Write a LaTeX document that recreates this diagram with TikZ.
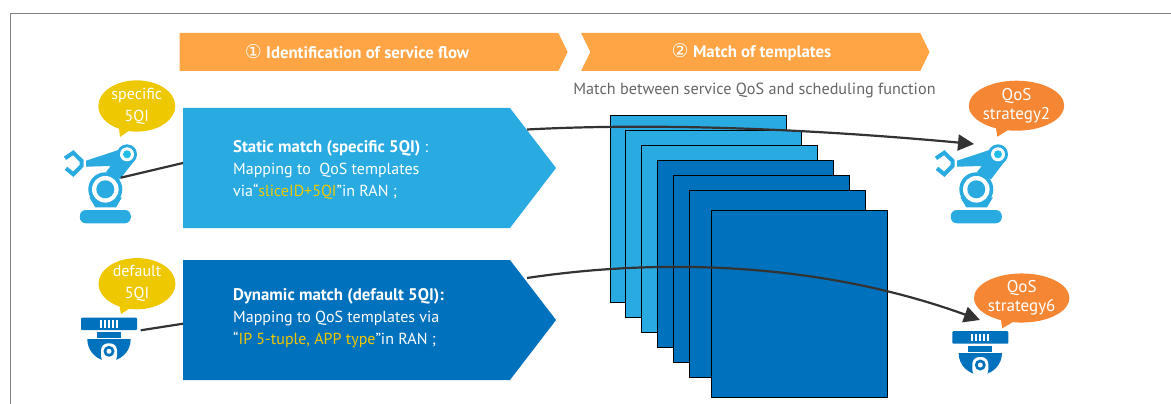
\documentclass[tikz,border=0pt]{standalone}
\usepackage{fontspec}
\setmainfont{PT Sans}
\newfontfamily\symfont{DejaVu Sans}
\usetikzlibrary{arrows.meta}
\usetikzlibrary{shapes.symbols}
\usetikzlibrary{shapes.callouts}
\definecolor{lightblue}{RGB}{41,171,226}
\definecolor{darkblue}{RGB}{0,113,188}
\definecolor{headorange}{RGB}{255,165,69}
\definecolor{bubbleorange}{RGB}{245,134,52}
\definecolor{bubbleyellow}{RGB}{238,200,0}
\definecolor{linegray}{RGB}{51,51,51}
\newcommand{\stepmark}[1]{{\symfont\mdseries\fontsize{19}{18}\selectfont #1}}
\tikzset{
	head/.style={signal, signal to=east, fill=headorange, inner sep=0pt, outer sep=0pt, minimum height=38pt, signal pointer angle=128},
	matchbox/.style={signal, signal to=east, inner sep=0pt, outer sep=0pt, minimum width=373pt, minimum height=120pt, signal pointer angle=105},
	headtext/.style={text=white, inner sep=0pt, font=\fontsize{16.8}{18}\selectfont\bfseries},
	boxtext/.style={text=white, anchor=west, align=left, inner sep=0pt, font=\fontsize{16}{21.8}\selectfont},
	bubble/.style={ellipse callout, text=white, align=center, inner sep=0pt, outer sep=0pt, font=\fontsize{16}{22}\selectfont},
	template/.style={draw=black, line width=1pt},
	link/.style={draw=linegray, line width=2.2pt},
	robot/.pic={
		\fill[lightblue, rounded corners=6pt] (-25.5,20.7) rectangle (25.5,34);
		\fill[lightblue] (-16,8) -- (-10,18) -- (10.7,18) -- (16.7,8) -- cycle;
		\fill[lightblue] (-19.3,-28.6) -- (14.7,-39.8) -- (30,-30) -- (14.7,-10) -- (0.7,-17.3) -- (5.4,-23.3) -- (-19.3,-22.6) -- cycle;
		\draw[lightblue, line width=4pt] (-40.3,-31) -- (-32,-36.6) -- (-23.6,-28.3) -- (-23.6,-23.6) -- (-32,-15) -- (-39.3,-21);
		\fill[lightblue] (0,0) circle (17);
		\fill[white] (0,0) circle (13.3);
		\fill[lightblue] (0,0) circle (9);
		\fill[lightblue] (21.7,-35) circle (10);
		\fill[white] (21.7,-35) circle (7);
		\fill[lightblue!80!cyan] (21.7,-35) circle (4);
		\coordinate (-port) at (15.4,-11.6);
	},
	camera/.pic={
		\fill[darkblue, rounded corners=1pt] (-28,-21.5) rectangle (28,-9);
		\foreach \tick in {-8,-4,0,4,8} {
			\fill[white] (\tick-1,-19) rectangle (\tick+1,-11.5);
		}
		\fill[darkblue] (-12,-7) rectangle (12,-1);
		\begin{scope}
			\clip (-23,0.3) rectangle (23,20.3);
			\fill[darkblue] (0,0.3) circle (21.7);
			\fill[white, rounded corners=7pt] (-8,24) -- (-8,4.3) -- (8,4.3) -- (8,24) -- cycle;
			\fill[darkblue] (0,12.3) circle (5.5);
			\fill[white] (0,12.3) circle (2.5);
		\end{scope}
		\coordinate (-port) at (31.7,-8.7);
	},
}

\begin{document}
\begin{tikzpicture}[x=1pt, y=-1pt]
	\useasboundingbox (0,0) rectangle (1171,404);
	\draw[gray, line width=1pt] (10.5,404) -- (10.5,13.5) -- (1171,13.5);

	% header arrows
	\node[head, minimum width=388pt] (headA) at (369,52){};
	\node[head, signal from=west, minimum width=348.5pt] (headB) at (755.3,52){};
	\node[headtext] (headAtext) at (357,52){\stepmark{①} Identification of service flow};
	\node[headtext] (headBtext) at (751.5,52){\stepmark{②} Match of templates};
	\node[text=black!60, inner sep=0pt, font=\fontsize{16.2}{18}\selectfont] (subtitle) at (754.5,90){Match between service QoS and scheduling function};

	% templates
	\begin{scope}[every node/.style={template, inner sep=0pt, outer sep=0pt, anchor=north west, minimum width=176pt, minimum height=187pt}]
		\node[fill=lightblue] (t1) at (610.7,115.7){};
		\node[fill=lightblue] (t2) at (625.7,130.7){};
		\node[fill=lightblue] (t3) at (641.7,145.7){};
		\node[fill=darkblue] (t4) at (657.7,160.7){};
		\node[fill=darkblue] (t5) at (673.7,175.7){};
		\node[fill=darkblue] (t6) at (689.7,190.7){};
		\node[fill=darkblue] (t7) at (711.3,210){};
	\end{scope}

	% devices
	\pic (robotL) at (105.3,189.3) {robot};
	\pic (robotR) at (976.3,189.3) {robot};
	\pic (camL) at (109,339) {camera};
	\pic (camR) at (980.3,352.7) {camera};
	\coordinate (robotRin) at (974,144);
	\coordinate (camRin) at (980,320);
	\coordinate (staticOut) at (527,129.5);
	\coordinate (dynamicOut) at (527,278);

	% links
	\draw[link, -{Triangle[length=16pt, width=16pt]}, linegray] (staticOut) .. controls (650,123) and (800,128) .. (robotRin);
	\draw[link, -{Triangle[length=16pt, width=16pt]}, linegray] (dynamicOut) .. controls (660,258) and (820,262) .. (camRin);

	% match boxes
	\node[matchbox, fill=lightblue] (staticBox) at (346.5,168){};
	\node[matchbox, fill=darkblue] (dynamicBox) at (346.5,320){};
	\draw[link] (robotL-port) -- ([yshift=5pt]staticBox.west);
	\draw[link] (camL-port) -- ([yshift=-3.7pt]dynamicBox.west);
	\node[boxtext] (staticText) at (233,170){{\fontsize{16.8}{21.8}\selectfont\bfseries Static match (specific 5QI)} :\\Mapping to~ QoS templates\\via“\textcolor{bubbleyellow}{sliceID+5QI}”in RAN ;};
	\node[boxtext] (dynamicText) at (233,318){{\fontsize{16.8}{21.8}\selectfont\bfseries Dynamic match (default 5QI):}\\Mapping to QoS templates via\\“\textcolor{bubbleyellow}{IP 5-tuple, APP type}”in RAN ;};

	% bubbles
	\node[bubble, fill=bubbleyellow, minimum width=77pt, minimum height=50pt, callout absolute pointer={(120,137)}] (bubbleA) at (136.8,106){specific\\5QI};
	\node[bubble, fill=bubbleyellow, minimum width=77pt, minimum height=49pt, callout absolute pointer={(121,314)}] (bubbleB) at (137,283.7){default\\5QI};
	\node[bubble, fill=bubbleorange, minimum width=93pt, minimum height=50pt, font=\fontsize{17}{19}\selectfont, callout absolute pointer={(997.3,136.7)}] (bubbleC) at (1016.5,105.7){QoS\\strategy2};
	\node[bubble, fill=bubbleorange, minimum width=93pt, minimum height=49pt, font=\fontsize{17}{19}\selectfont, callout absolute pointer={(1002.3,328.3)}] (bubbleD) at (1021.7,298){QoS\\strategy6};
\end{tikzpicture}
\end{document}
